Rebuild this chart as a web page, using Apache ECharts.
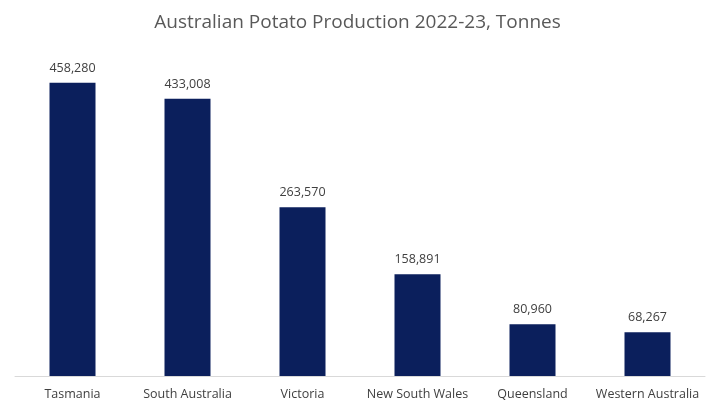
<!DOCTYPE html>
<html><head><meta charset="utf-8">
<script src="https://cdn.jsdelivr.net/npm/echarts@6/dist/echarts.min.js"></script>
<style>html,body{margin:0;padding:0;background:#fff}#c{width:715px;height:411px}</style>
</head><body><div id="c"></div>
<script>
const categories = ["Tasmania","South Australia","Victoria","New South Wales","Queensland","Western Australia"];
const production = [458280,433008,263570,158891,80960,68267];
const chart = echarts.init(document.getElementById('c'));
chart.setOption({
  animation:false,
  title:{text:"Australian Potato Production 2022-23, Tonnes",left:'center',top:8,
    textStyle:{fontFamily:"Open Sans",fontSize:19,fontWeight:'normal',color:'#595959'}},
  grid:{left:15,right:10,top:56,bottom:35},
  xAxis:{type:'category',data:categories,axisTick:{show:false},
    axisLine:{lineStyle:{color:'#d9d9d9'}},
    axisLabel:{color:'#404040',fontFamily:"Open Sans",fontSize:12.5,margin:12,interval:0}},
  yAxis:{type:'value',min:0,max:500000,show:false,splitLine:{show:false}},
  series:[{type:'bar',data:production,barWidth:'40%',itemStyle:{color:'#0b1f5c'},
    label:{show:true,position:'top',distance:8,color:'#404040',fontFamily:"Open Sans",fontSize:12.5,
      formatter:p=>p.value.toLocaleString('en-US')}}]
});
</script></body></html>
